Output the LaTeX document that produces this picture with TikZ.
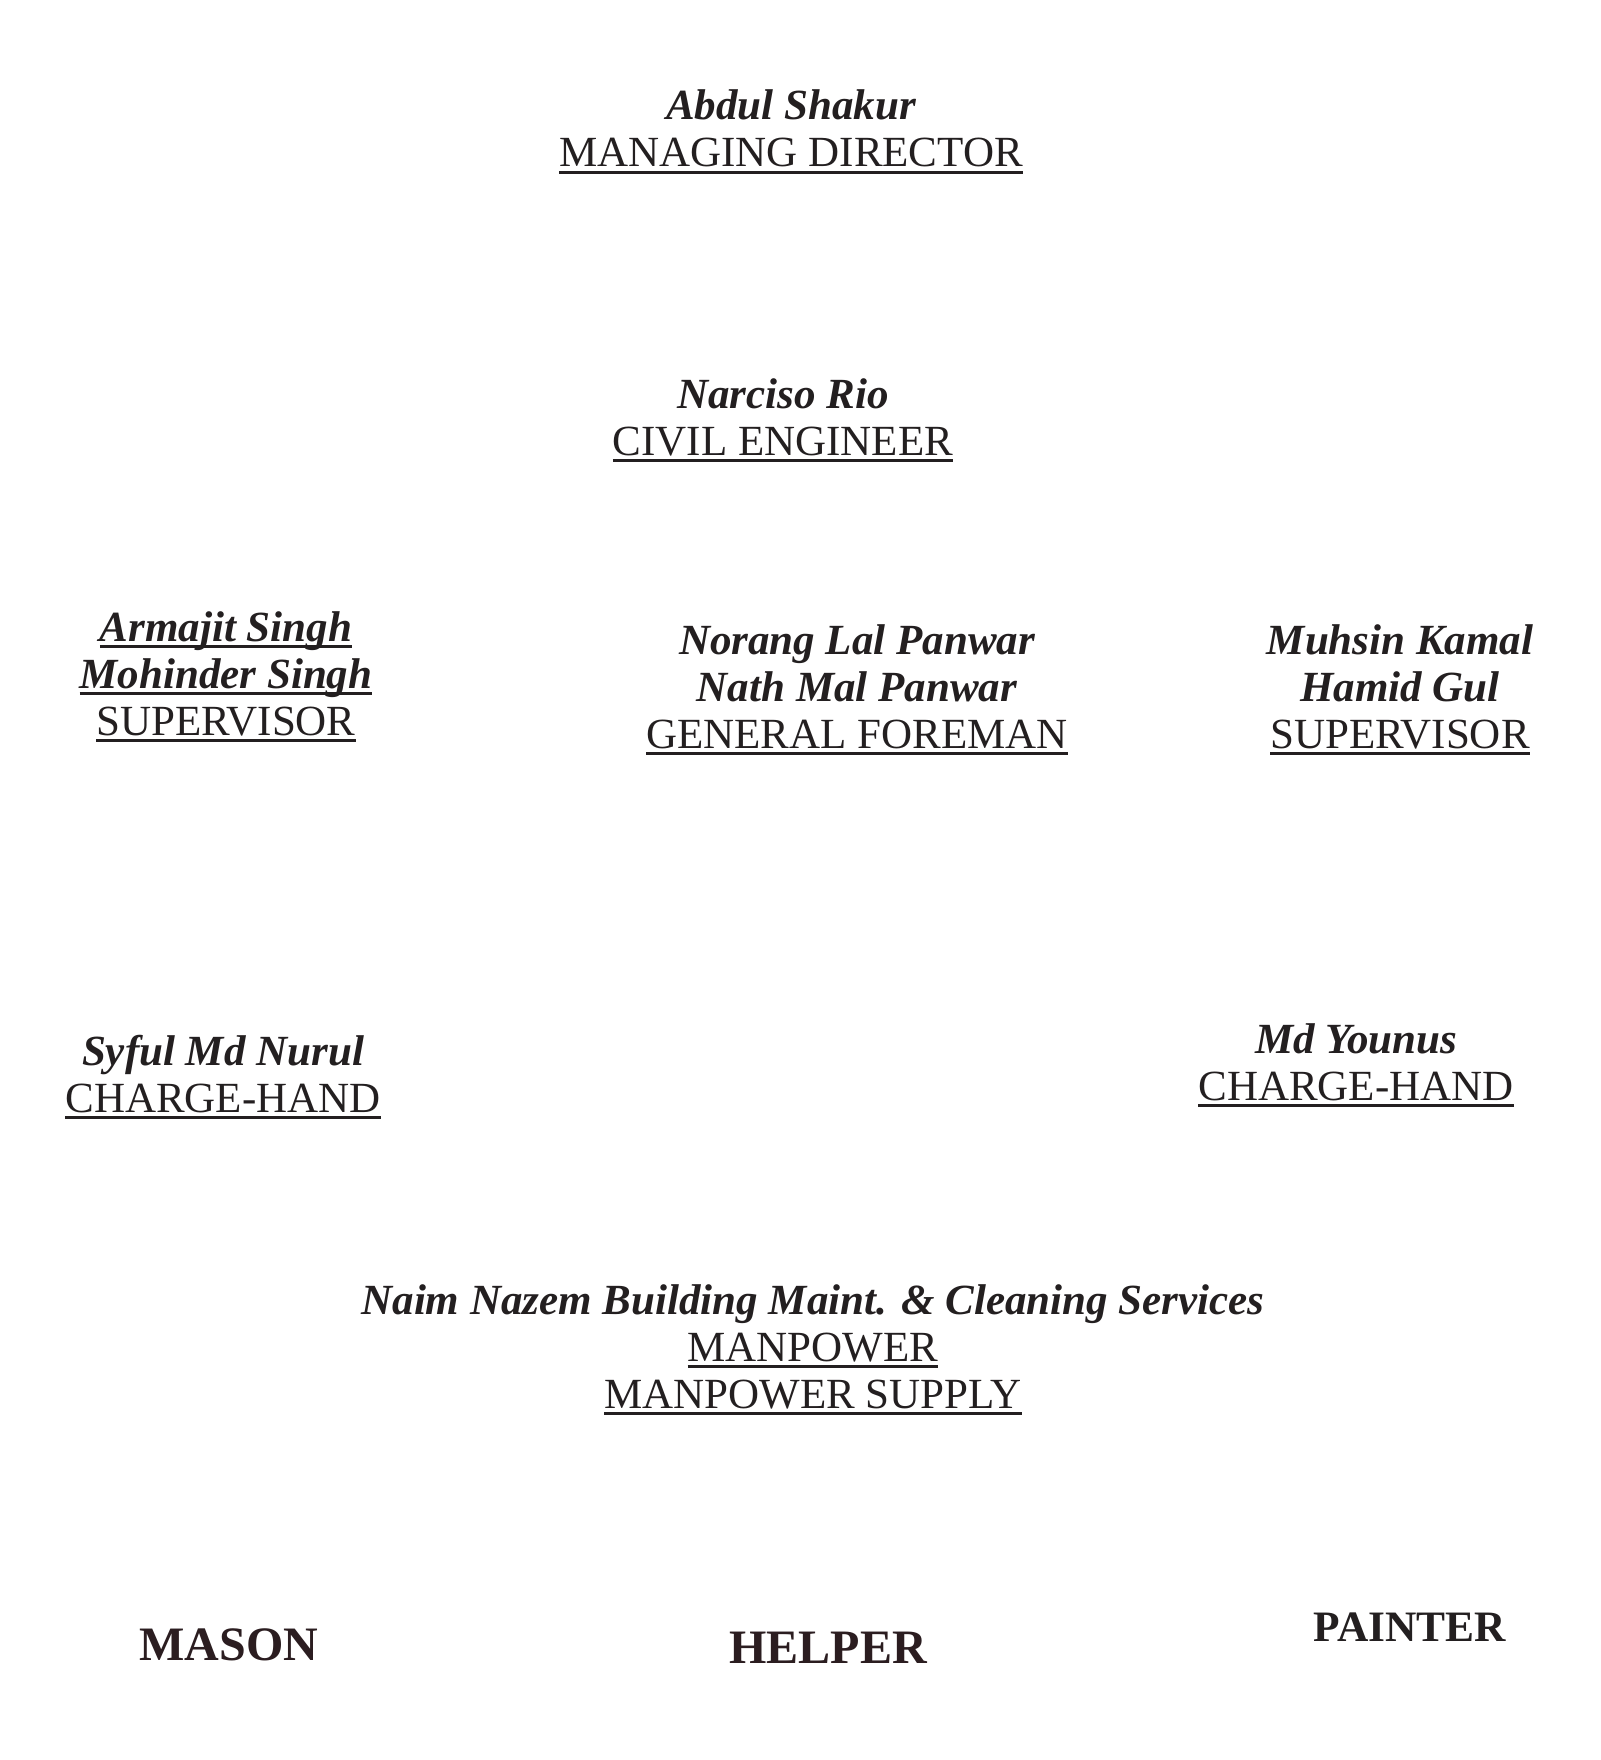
\documentclass[tikz,border=0pt]{standalone}
\usepackage{fontspec}
\setmainfont{Liberation Serif}
\definecolor{ink}{HTML}{231F20}
\definecolor{inkb}{HTML}{2B1D20}
\newcommand\ulline[1]{\setbox0=\hbox{#1}\rlap{\rule[-0.16em]{\wd0}{0.06em}}\box0}
\newcommand\nm[1]{{\bfseries\itshape #1}}
\newcommand\blk[1]{\begin{tabular}[t]{@{}c@{}}#1\end{tabular}}
\tikzset{
  block/.style={anchor=base, inner sep=0pt, text=ink, font=\fontsize{21.5}{23.5}\selectfont},
  trade/.style={anchor=base, inner sep=0pt, text=inkb, font=\fontsize{24}{26}\selectfont\bfseries},
}
\begin{document}
\begin{tikzpicture}[x=0.5pt,y=-0.5pt]
\useasboundingbox (0,0) rectangle (1600,1760);
\fill[white] (0,0) rectangle (1600,1760);
\node[block] (md) at (791,120) {\blk{\nm{Abdul Shakur}\\ \ulline{MANAGING DIRECTOR}}};
\node[block] (ce) at (783,408) {\blk{\nm{Narciso Rio}\\ \ulline{CIVIL ENGINEER}}};
\node[block] (supl) at (226,641) {\blk{\ulline{\nm{Armajit Singh}}\\ \ulline{\nm{Mohinder Singh}}\\ \ulline{SUPERVISOR}}};
\node[block] (gf) at (857,654) {\blk{\nm{Norang Lal Panwar}\\ \nm{Nath Mal Panwar}\\ \ulline{GENERAL FOREMAN}}};
\node[block] (supr) at (1400,654) {\blk{\nm{Muhsin Kamal}\\ \nm{Hamid Gul}\\ \ulline{SUPERVISOR}}};
\node[block] (chl) at (223,1065) {\blk{\nm{Syful Md Nurul}\\ \ulline{CHARGE-HAND}}};
\node[block] (chr) at (1356,1053) {\blk{\nm{Md Younus}\\ \ulline{CHARGE-HAND}}};
\node[block] (mp) at (813,1314) {\blk{\nm{Naim Nazem Building Maint. \& Cleaning Services}\\ \ulline{MANPOWER}\\ \ulline{MANPOWER SUPPLY}}};
\node[trade] (mason) at (229,1660) {MASON};
\node[trade] (helper) at (828,1663) {HELPER};
\node[trade, text=ink, font=\fontsize{21.7}{24}\selectfont\bfseries] (painter) at (1410,1641) {PAINTER};
\end{tikzpicture}
\end{document}
